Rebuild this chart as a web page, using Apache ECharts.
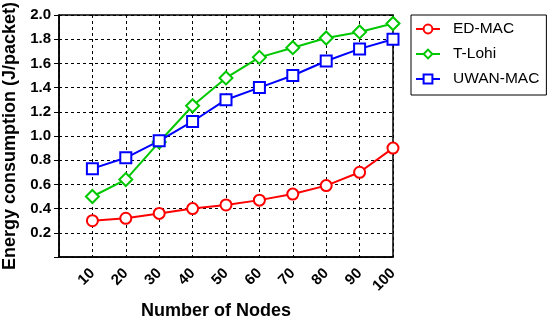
<!DOCTYPE html>
<html>
<head>
<meta charset="utf-8">
<script src="https://cdn.jsdelivr.net/npm/echarts@6/dist/echarts.min.js"></script>
<style>html,body{margin:0;padding:0;background:#fff;}#c{width:550px;height:321px;}</style>
</head>
<body>
<div id="c"></div>
<script>
var nodes = [10, 20, 30, 40, 50, 60, 70, 80, 90, 100];
var edMac = [0.30, 0.32, 0.36, 0.40, 0.43, 0.47, 0.52, 0.59, 0.70, 0.90];
var tLohi = [0.50, 0.64, 0.95, 1.25, 1.48, 1.65, 1.73, 1.81, 1.86, 1.93];
var uwanMac = [0.73, 0.82, 0.96, 1.12, 1.30, 1.40, 1.50, 1.62, 1.72, 1.80];
var seriesNames = ['ED-MAC', 'T-Lohi', 'UWAN-MAC'];
var xTitle = 'Number of Nodes';
var yTitle = 'Energy consumption (J/packet)';

function pairs(v){ return nodes.map(function(n,i){ return [n, v[i]]; }); }
var font = 'Arial, "Liberation Sans", sans-serif';
function mk(name, data, color, symbol, size){
  return {
    name: name, type: 'line', data: pairs(data),
    symbol: symbol, symbolSize: size, showAllSymbol: true,
    lineStyle: {color: color, width: 2},
    itemStyle: {color: '#fff', borderColor: color, borderWidth: 2},
    emphasis: {disabled: true}, z: 3
  };
}
var chart = echarts.init(document.getElementById('c'));
chart.setOption({
  animation: false,
  backgroundColor: '#fff',
  grid: {left: 59, top: 15, right: 157, bottom: 64, containLabel: false, outerBoundsMode: 'none',
    show: true, borderColor: '#000', borderWidth: 1.5, backgroundColor: 'transparent'},
  legend: {
    orient: 'vertical', left: 411, top: 15,
    padding: [6, 7, 8, 4], itemGap: 9,
    borderColor: '#000', borderWidth: 1,
    itemWidth: 24, itemHeight: 11,
    textStyle: {fontFamily: font, fontSize: 15.5, lineHeight: 16, color: '#000', padding: [0,0,0,8]},
    data: seriesNames
  },
  xAxis: {
    type: 'value', min: 0, max: 100, interval: 10,
    name: xTitle, nameLocation: 'middle', nameGap: 45,
    nameTextStyle: {fontFamily: font, fontSize: 18, fontWeight: 'bold', color: '#000', padding: [0, 20, 0, 0]},
    axisLine: {show: true, lineStyle: {color: '#000', width: 1.5}},
    axisTick: {show: false},
    axisLabel: {rotate: 45, margin: 14, fontFamily: font, fontSize: 15, fontWeight: 'bold', color: '#000',
      formatter: function(v){ return v === 0 ? '' : String(v); }},
    splitLine: {show: true, lineStyle: {color: '#000', type: [3, 3], width: 1}}
  },
  yAxis: {
    type: 'value', min: 0, max: 2, interval: 0.2,
    name: yTitle, nameLocation: 'middle', nameGap: 35,
    nameTextStyle: {fontFamily: font, fontSize: 18, fontWeight: 'bold', color: '#000'},
    axisLine: {show: true, lineStyle: {color: '#000', width: 1.5}},
    axisTick: {show: true, length: 5, lineStyle: {color: '#000', width: 1}},
    axisLabel: {margin: 8, fontFamily: font, fontSize: 15, fontWeight: 'bold', color: '#000',
      formatter: function(v){ return v < 0.01 ? '' : v.toFixed(1); }},
    splitLine: {show: true, lineStyle: {color: '#000', type: [3, 3], width: 1}}
  },
  series: [
    mk(seriesNames[0], edMac, '#ff0000', 'circle', 11),
    mk(seriesNames[1], tLohi, '#00c800', 'diamond', 13),
    mk(seriesNames[2], uwanMac, '#0000ff', 'rect', 11)
  ]
});
</script>
</body>
</html>
